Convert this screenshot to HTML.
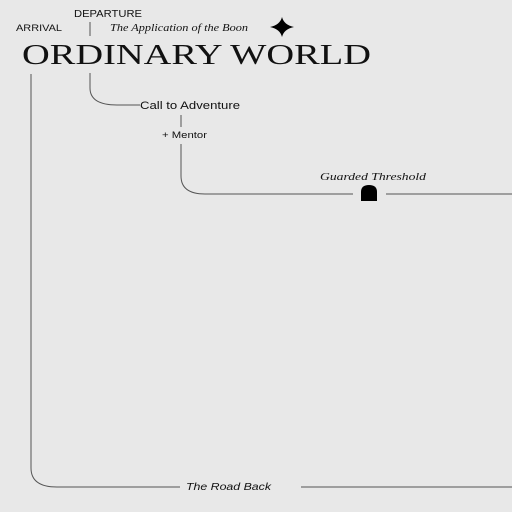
<!DOCTYPE html>
<html><head><style>html,body{margin:0;padding:0;background:#e8e8e8;}svg{display:block}</style></head>
<body>
<svg width="512" height="512" viewBox="0 0 512 512" xmlns="http://www.w3.org/2000/svg">
<rect width="512" height="512" fill="#e8e8e8"/>
<g fill="none" stroke="#555" stroke-width="1">
<path d="M31 74 V468 Q31 487 57 487 H180"/>
<path d="M301 487 H512"/>
<path d="M90 22 V36"/>
<path d="M90 73 V88 Q90 105 117 105 H140"/>
<path d="M181 115 V127"/>
<path d="M181 144 V176 Q181 194 205 194 H353"/>
<path d="M386 194 H512"/>
</g>
<path d="M361 201 V192 Q361 185 369 185 Q377 185 377 192 V201 Z" fill="#000"/>
<path d="M282 17 Q284 25 294 27 Q284 29 282 37 Q280 29 270 27 Q280 25 282 17 Z" fill="#000"/>
<g font-family="Liberation Sans, sans-serif" fill="#111">
<text x="16" y="31" font-size="9" textLength="46" lengthAdjust="spacingAndGlyphs">ARRIVAL</text>
<text x="74" y="17" font-size="10" textLength="68" lengthAdjust="spacingAndGlyphs">DEPARTURE</text>
<text x="140" y="109" font-size="11" textLength="100" lengthAdjust="spacingAndGlyphs">Call to Adventure</text>
<text x="162" y="138" font-size="9" textLength="45" lengthAdjust="spacingAndGlyphs">+ Mentor</text>
<text x="186" y="490" font-size="10" font-style="italic" textLength="85" lengthAdjust="spacingAndGlyphs">The Road Back</text>
</g>
<g font-family="Liberation Serif, serif" fill="#111">
<text x="110" y="31" font-size="11" font-style="italic" textLength="138" lengthAdjust="spacingAndGlyphs">The Application of the Boon</text>
<text x="320" y="180" font-size="11" font-style="italic" textLength="106" lengthAdjust="spacingAndGlyphs">Guarded Threshold</text>
<text x="22" y="64" font-size="29" textLength="349" lengthAdjust="spacingAndGlyphs">ORDINARY WORLD</text>
</g>
</svg>
</body></html>
